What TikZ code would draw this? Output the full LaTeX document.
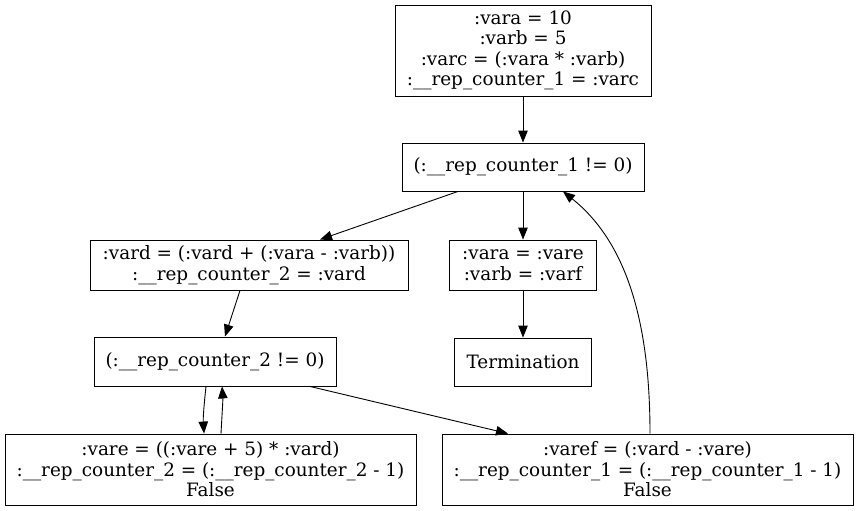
\documentclass[tikz,border=0pt]{standalone}
\usepackage{fontspec}
\setmainfont{DejaVu Serif}
\usetikzlibrary{arrows.meta}
\begin{document}
\begin{tikzpicture}[x=1pt,y=-1pt,
  box/.style={draw, line width=0.9pt, inner sep=0pt, align=center,
    font=\fontsize{18.4}{20.5}\selectfont},
  arr/.style={-{Triangle[length=12pt,width=9.5pt]}, line width=0.9pt}]
\useasboundingbox (0,0) rectangle (859,511);
\node[box, minimum width=256pt, minimum height=91pt] (top) at (523,50.5)
  {:vara = 10\\:varb = 5\\:varc = (:vara * :varb)\\:\_\_rep\_counter\_1 = :varc};
\node[box, minimum width=242pt, minimum height=48pt] (c1) at (523,167)
  {(:\_\_rep\_counter\_1 != 0)};
\node[box, minimum width=318pt, minimum height=50pt] (vd) at (249,265)
  {:vard = (:vard + (:vara - :varb))\\:\_\_rep\_counter\_2 = :vard};
\node[box, minimum width=147pt, minimum height=50pt] (va) at (523,265)
  {:vara = :vare\\:varb = :varf};
\node[box, minimum width=242pt, minimum height=49pt] (c2) at (215,361.5)
  {(:\_\_rep\_counter\_2 != 0)};
\node[box, minimum width=137pt, minimum height=48pt] (term) at (523,362)
  {Termination};
\node[box, minimum width=411pt, minimum height=71pt] (ve) at (210.5,469.5)
  {:vare = ((:vare + 5) * :vard)\\:\_\_rep\_counter\_2 = (:\_\_rep\_counter\_2 - 1)\\False};
\node[box, minimum width=411pt, minimum height=71pt] (vf) at (647.5,469.5)
  {:varef = (:vard - :vare)\\:\_\_rep\_counter\_1 = (:\_\_rep\_counter\_1 - 1)\\False};
\draw[arr] (top.south) -- (c1.north);
\draw[arr] (c1.south -| 458,0) -- (vd.north -| 320,0);
\draw[arr] (c1.south) -- (va.north);
\draw[arr] (va.south) -- (term.north);
\draw[arr] (vd.south -| 240,0) -- (c2.north -| 225,0);
\draw[arr] (c2.south -| 206,0) .. controls (204,405) and (203,418) .. (ve.north -| 204,0);
\draw[arr] (ve.north -| 221,0) .. controls (222,415) and (223,400) .. (c2.south -| 222,0);
\draw[arr] (c2.south -| 310,0) -- (vf.north -| 508,0);
\draw[arr] (vf.north -| 650,0) .. controls (650,330) and (630,245) .. (c1.south -| 563,0);
\end{tikzpicture}
\end{document}
